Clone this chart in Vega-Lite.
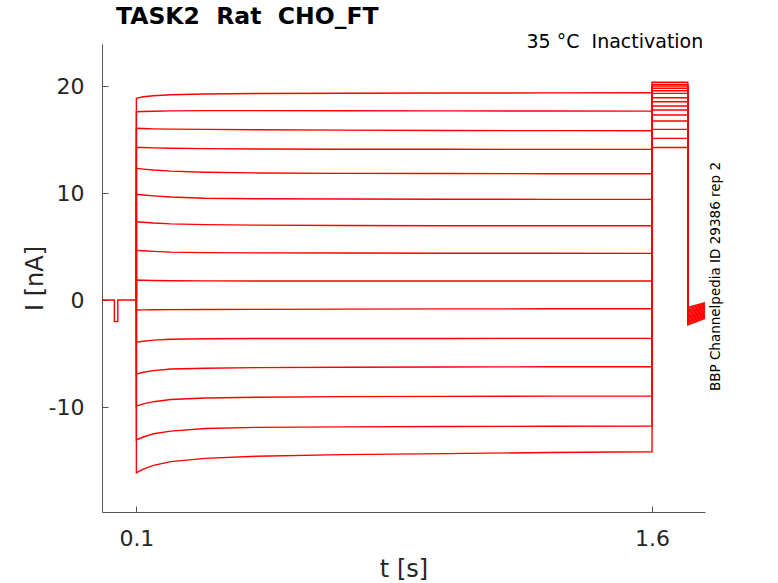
{
 "$schema": "https://vega.github.io/schema/vega-lite/v6.json",
 "width": 603,
 "height": 468,
 "autosize": {"type": "none"},
 "padding": {"left": 102, "top": 44, "right": 73, "bottom": 71},
 "background": "white",
 "config": {"view": {"stroke": null}, "font": "DejaVu Sans"},
 "title": {"text": "TASK2\u00a0\u00a0Rat\u00a0\u00a0CHO_FT", "anchor": "start", "frame": "group", "dx": 14, "fontSize": 23.5, "fontWeight": "bold", "font": "DejaVu Sans", "color": "#000000", "offset": 5},
 "layer": [
  {
   "data": {"values": [
    {"k":0,"i":0,"t":0,"v":0},{"k":0,"i":1,"t":0.036,"v":0},{"k":0,"i":2,"t":0.036,"v":-2.0},{"k":0,"i":3,"t":0.046,"v":-2.0},{"k":0,"i":4,"t":0.046,"v":0},{"k":0,"i":5,"t":0.1,"v":0},
    {"k":1,"i":0,"t":0.1,"v":0},{"k":1,"i":1,"t":0.1,"v":18.85},{"k":1,"i":2,"t":0.12,"v":19.0},{"k":1,"i":3,"t":0.15,"v":19.1},{"k":1,"i":4,"t":0.2,"v":19.18},{"k":1,"i":5,"t":0.3,"v":19.25},{"k":1,"i":6,"t":0.45,"v":19.3},{"k":1,"i":7,"t":0.7,"v":19.33},{"k":1,"i":8,"t":1.0,"v":19.35},{"k":1,"i":9,"t":1.3,"v":19.36},{"k":1,"i":10,"t":1.6,"v":19.37},{"k":1,"i":11,"t":1.6,"v":14.25},{"k":1,"i":12,"t":1.704,"v":14.25},{"k":1,"i":13,"t":1.704,"v":-0.68},{"k":1,"i":14,"t":1.754,"v":-0.25},
    {"k":2,"i":0,"t":0.1,"v":0},{"k":2,"i":1,"t":0.1,"v":17.6},{"k":2,"i":2,"t":0.12,"v":17.62},{"k":2,"i":3,"t":0.15,"v":17.65},{"k":2,"i":4,"t":0.2,"v":17.68},{"k":2,"i":5,"t":0.3,"v":17.7},{"k":2,"i":6,"t":0.45,"v":17.7},{"k":2,"i":7,"t":0.7,"v":17.69},{"k":2,"i":8,"t":1.0,"v":17.68},{"k":2,"i":9,"t":1.3,"v":17.67},{"k":2,"i":10,"t":1.6,"v":17.66},{"k":2,"i":11,"t":1.6,"v":15.11},{"k":2,"i":12,"t":1.704,"v":15.11},{"k":2,"i":13,"t":1.704,"v":-0.80},{"k":2,"i":14,"t":1.754,"v":-0.35},
    {"k":3,"i":0,"t":0.1,"v":0},{"k":3,"i":1,"t":0.1,"v":16.05},{"k":3,"i":2,"t":0.12,"v":16.03},{"k":3,"i":3,"t":0.15,"v":16.0},{"k":3,"i":4,"t":0.2,"v":15.97},{"k":3,"i":5,"t":0.3,"v":15.95},{"k":3,"i":6,"t":0.45,"v":15.92},{"k":3,"i":7,"t":0.7,"v":15.88},{"k":3,"i":8,"t":1.0,"v":15.85},{"k":3,"i":9,"t":1.3,"v":15.83},{"k":3,"i":10,"t":1.6,"v":15.82},{"k":3,"i":11,"t":1.6,"v":15.95},{"k":3,"i":12,"t":1.704,"v":15.95},{"k":3,"i":13,"t":1.704,"v":-0.92},{"k":3,"i":14,"t":1.754,"v":-0.46},
    {"k":4,"i":0,"t":0.1,"v":0},{"k":4,"i":1,"t":0.1,"v":14.27},{"k":4,"i":2,"t":0.12,"v":14.25},{"k":4,"i":3,"t":0.15,"v":14.22},{"k":4,"i":4,"t":0.2,"v":14.18},{"k":4,"i":5,"t":0.3,"v":14.15},{"k":4,"i":6,"t":0.45,"v":14.12},{"k":4,"i":7,"t":0.7,"v":14.1},{"k":4,"i":8,"t":1.0,"v":14.09},{"k":4,"i":9,"t":1.3,"v":14.08},{"k":4,"i":10,"t":1.6,"v":14.08},{"k":4,"i":11,"t":1.6,"v":16.73},{"k":4,"i":12,"t":1.704,"v":16.73},{"k":4,"i":13,"t":1.704,"v":-1.04},{"k":4,"i":14,"t":1.754,"v":-0.56},
    {"k":5,"i":0,"t":0.1,"v":0},{"k":5,"i":1,"t":0.1,"v":12.31},{"k":5,"i":2,"t":0.12,"v":12.24},{"k":5,"i":3,"t":0.15,"v":12.15},{"k":5,"i":4,"t":0.2,"v":12.05},{"k":5,"i":5,"t":0.3,"v":11.95},{"k":5,"i":6,"t":0.45,"v":11.88},{"k":5,"i":7,"t":0.7,"v":11.84},{"k":5,"i":8,"t":1.0,"v":11.82},{"k":5,"i":9,"t":1.3,"v":11.81},{"k":5,"i":10,"t":1.6,"v":11.8},{"k":5,"i":11,"t":1.6,"v":17.29},{"k":5,"i":12,"t":1.704,"v":17.29},{"k":5,"i":13,"t":1.704,"v":-1.15},{"k":5,"i":14,"t":1.754,"v":-0.67},
    {"k":6,"i":0,"t":0.1,"v":0},{"k":6,"i":1,"t":0.1,"v":9.88},{"k":6,"i":2,"t":0.12,"v":9.82},{"k":6,"i":3,"t":0.15,"v":9.74},{"k":6,"i":4,"t":0.2,"v":9.63},{"k":6,"i":5,"t":0.3,"v":9.52},{"k":6,"i":6,"t":0.45,"v":9.47},{"k":6,"i":7,"t":0.7,"v":9.44},{"k":6,"i":8,"t":1.0,"v":9.42},{"k":6,"i":9,"t":1.3,"v":9.41},{"k":6,"i":10,"t":1.6,"v":9.41},{"k":6,"i":11,"t":1.6,"v":17.76},{"k":6,"i":12,"t":1.704,"v":17.76},{"k":6,"i":13,"t":1.704,"v":-1.27},{"k":6,"i":14,"t":1.754,"v":-0.77},
    {"k":7,"i":0,"t":0.1,"v":0},{"k":7,"i":1,"t":0.1,"v":7.32},{"k":7,"i":2,"t":0.12,"v":7.27},{"k":7,"i":3,"t":0.15,"v":7.2},{"k":7,"i":4,"t":0.2,"v":7.12},{"k":7,"i":5,"t":0.3,"v":7.05},{"k":7,"i":6,"t":0.45,"v":7.0},{"k":7,"i":7,"t":0.7,"v":6.97},{"k":7,"i":8,"t":1.0,"v":6.95},{"k":7,"i":9,"t":1.3,"v":6.94},{"k":7,"i":10,"t":1.6,"v":6.94},{"k":7,"i":11,"t":1.6,"v":18.13},{"k":7,"i":12,"t":1.704,"v":18.13},{"k":7,"i":13,"t":1.704,"v":-1.39},{"k":7,"i":14,"t":1.754,"v":-0.88},
    {"k":8,"i":0,"t":0.1,"v":0},{"k":8,"i":1,"t":0.1,"v":4.64},{"k":8,"i":2,"t":0.12,"v":4.6},{"k":8,"i":3,"t":0.15,"v":4.55},{"k":8,"i":4,"t":0.2,"v":4.48},{"k":8,"i":5,"t":0.3,"v":4.43},{"k":8,"i":6,"t":0.45,"v":4.41},{"k":8,"i":7,"t":0.7,"v":4.39},{"k":8,"i":8,"t":1.0,"v":4.38},{"k":8,"i":9,"t":1.3,"v":4.37},{"k":8,"i":10,"t":1.6,"v":4.36},{"k":8,"i":11,"t":1.6,"v":18.53},{"k":8,"i":12,"t":1.704,"v":18.53},{"k":8,"i":13,"t":1.704,"v":-1.51},{"k":8,"i":14,"t":1.754,"v":-0.98},
    {"k":9,"i":0,"t":0.1,"v":0},{"k":9,"i":1,"t":0.1,"v":1.87},{"k":9,"i":2,"t":0.12,"v":1.85},{"k":9,"i":3,"t":0.15,"v":1.83},{"k":9,"i":4,"t":0.2,"v":1.8},{"k":9,"i":5,"t":0.3,"v":1.79},{"k":9,"i":6,"t":0.45,"v":1.78},{"k":9,"i":7,"t":0.7,"v":1.78},{"k":9,"i":8,"t":1.0,"v":1.78},{"k":9,"i":9,"t":1.3,"v":1.78},{"k":9,"i":10,"t":1.6,"v":1.78},{"k":9,"i":11,"t":1.6,"v":18.91},{"k":9,"i":12,"t":1.704,"v":18.91},{"k":9,"i":13,"t":1.704,"v":-1.63},{"k":9,"i":14,"t":1.754,"v":-1.08},
    {"k":10,"i":0,"t":0.1,"v":0},{"k":10,"i":1,"t":0.1,"v":-0.93},{"k":10,"i":2,"t":0.12,"v":-0.92},{"k":10,"i":3,"t":0.15,"v":-0.91},{"k":10,"i":4,"t":0.2,"v":-0.9},{"k":10,"i":5,"t":0.3,"v":-0.89},{"k":10,"i":6,"t":0.45,"v":-0.87},{"k":10,"i":7,"t":0.7,"v":-0.85},{"k":10,"i":8,"t":1.0,"v":-0.83},{"k":10,"i":9,"t":1.3,"v":-0.82},{"k":10,"i":10,"t":1.6,"v":-0.81},{"k":10,"i":11,"t":1.6,"v":19.32},{"k":10,"i":12,"t":1.704,"v":19.32},{"k":10,"i":13,"t":1.704,"v":-1.75},{"k":10,"i":14,"t":1.754,"v":-1.19},
    {"k":11,"i":0,"t":0.1,"v":0},{"k":11,"i":1,"t":0.1,"v":-3.95},{"k":11,"i":2,"t":0.12,"v":-3.85},{"k":11,"i":3,"t":0.15,"v":-3.75},{"k":11,"i":4,"t":0.2,"v":-3.67},{"k":11,"i":5,"t":0.3,"v":-3.62},{"k":11,"i":6,"t":0.45,"v":-3.6},{"k":11,"i":7,"t":0.7,"v":-3.59},{"k":11,"i":8,"t":1.0,"v":-3.59},{"k":11,"i":9,"t":1.3,"v":-3.58},{"k":11,"i":10,"t":1.6,"v":-3.58},{"k":11,"i":11,"t":1.6,"v":19.56},{"k":11,"i":12,"t":1.704,"v":19.56},{"k":11,"i":13,"t":1.704,"v":-1.87},{"k":11,"i":14,"t":1.754,"v":-1.29},
    {"k":12,"i":0,"t":0.1,"v":0},{"k":12,"i":1,"t":0.1,"v":-6.92},{"k":12,"i":2,"t":0.12,"v":-6.75},{"k":12,"i":3,"t":0.15,"v":-6.6},{"k":12,"i":4,"t":0.2,"v":-6.45},{"k":12,"i":5,"t":0.3,"v":-6.37},{"k":12,"i":6,"t":0.45,"v":-6.32},{"k":12,"i":7,"t":0.7,"v":-6.28},{"k":12,"i":8,"t":1.0,"v":-6.26},{"k":12,"i":9,"t":1.3,"v":-6.24},{"k":12,"i":10,"t":1.6,"v":-6.23},{"k":12,"i":11,"t":1.6,"v":19.79},{"k":12,"i":12,"t":1.704,"v":19.79},{"k":12,"i":13,"t":1.704,"v":-1.98},{"k":12,"i":14,"t":1.754,"v":-1.4},
    {"k":13,"i":0,"t":0.1,"v":0},{"k":13,"i":1,"t":0.1,"v":-9.91},{"k":13,"i":2,"t":0.12,"v":-9.7},{"k":13,"i":3,"t":0.15,"v":-9.5},{"k":13,"i":4,"t":0.2,"v":-9.3},{"k":13,"i":5,"t":0.3,"v":-9.15},{"k":13,"i":6,"t":0.45,"v":-9.08},{"k":13,"i":7,"t":0.7,"v":-9.03},{"k":13,"i":8,"t":1.0,"v":-9.0},{"k":13,"i":9,"t":1.3,"v":-8.98},{"k":13,"i":10,"t":1.6,"v":-8.97},{"k":13,"i":11,"t":1.6,"v":20.0},{"k":13,"i":12,"t":1.704,"v":20.0},{"k":13,"i":13,"t":1.704,"v":-2.1},{"k":13,"i":14,"t":1.754,"v":-1.5},
    {"k":14,"i":0,"t":0.1,"v":0},{"k":14,"i":1,"t":0.1,"v":-13.08},{"k":14,"i":2,"t":0.12,"v":-12.8},{"k":14,"i":3,"t":0.15,"v":-12.5},{"k":14,"i":4,"t":0.2,"v":-12.25},{"k":14,"i":5,"t":0.3,"v":-12.0},{"k":14,"i":6,"t":0.45,"v":-11.9},{"k":14,"i":7,"t":0.7,"v":-11.85},{"k":14,"i":8,"t":1.0,"v":-11.82},{"k":14,"i":9,"t":1.3,"v":-11.8},{"k":14,"i":10,"t":1.6,"v":-11.78},{"k":14,"i":11,"t":1.6,"v":20.16},{"k":14,"i":12,"t":1.704,"v":20.16},{"k":14,"i":13,"t":1.704,"v":-2.22},{"k":14,"i":14,"t":1.754,"v":-1.61},
    {"k":15,"i":0,"t":0.1,"v":0},{"k":15,"i":1,"t":0.1,"v":-16.14},{"k":15,"i":2,"t":0.12,"v":-15.8},{"k":15,"i":3,"t":0.15,"v":-15.45},{"k":15,"i":4,"t":0.2,"v":-15.1},{"k":15,"i":5,"t":0.3,"v":-14.8},{"k":15,"i":6,"t":0.45,"v":-14.6},{"k":15,"i":7,"t":0.7,"v":-14.45},{"k":15,"i":8,"t":1.0,"v":-14.35},{"k":15,"i":9,"t":1.3,"v":-14.25},{"k":15,"i":10,"t":1.6,"v":-14.18},{"k":15,"i":11,"t":1.6,"v":20.35},{"k":15,"i":12,"t":1.704,"v":20.35},{"k":15,"i":13,"t":1.704,"v":-2.34},{"k":15,"i":14,"t":1.754,"v":-1.71}
   ]},
   "mark": {"type": "line", "stroke": "#ff0000", "strokeWidth": 1.4, "interpolate": "linear"},
   "encoding": {
    "x": {"field": "t", "type": "quantitative",
      "scale": {"domain": [0, 1.754], "nice": false, "zero": false},
      "axis": {"values": [0.1, 1.6], "format": ".1f", "grid": false, "title": "t [s]",
        "domainColor": "#555555", "tickColor": "#555555", "tickSize": -6, "labelPadding": 22,
        "labelFontSize": 22, "labelColor": "#262626", "labelFont": "DejaVu Sans",
        "titleFontSize": 24, "titleFontWeight": "normal", "titleColor": "#262626", "titleFont": "DejaVu Sans", "titlePadding": 8}},
    "y": {"field": "v", "type": "quantitative",
      "scale": {"domain": [-19.81, 23.93], "nice": false, "zero": false},
      "axis": {"values": [-10, 0, 10, 20], "labelExpr": "'' + datum.value", "grid": false, "title": "I [nA]",
        "domainColor": "#555555", "tickColor": "#555555", "tickSize": -6, "labelPadding": 24,
        "labelFontSize": 22, "labelColor": "#262626", "labelFont": "DejaVu Sans",
        "titleFontSize": 24, "titleFontWeight": "normal", "titleColor": "#262626", "titleFont": "DejaVu Sans", "titlePadding": 1}},
    "detail": {"field": "k", "type": "nominal"},
    "order": {"field": "i", "type": "quantitative"}
   }
  },
  {
   "data": {"values": [{"t": 1.749, "v": 23.55, "label": "35 °C\u00a0\u00a0Inactivation"}]},
   "mark": {"type": "text", "align": "right", "baseline": "alphabetic", "fontSize": 19, "font": "DejaVu Sans", "color": "#000000"},
   "encoding": {
    "x": {"field": "t", "type": "quantitative"},
    "y": {"field": "v", "type": "quantitative"},
    "text": {"field": "label"}
   }
  },
  {
   "data": {"values": [{"t": 1.787, "v": 2.2, "label": "BBP Channelpedia ID 29386 rep 2"}]},
   "mark": {"type": "text", "align": "center", "baseline": "middle", "angle": 270, "fontSize": 13.5, "font": "DejaVu Sans", "color": "#000000"},
   "encoding": {
    "x": {"field": "t", "type": "quantitative"},
    "y": {"field": "v", "type": "quantitative"},
    "text": {"field": "label"}
   }
  }
 ]
}
